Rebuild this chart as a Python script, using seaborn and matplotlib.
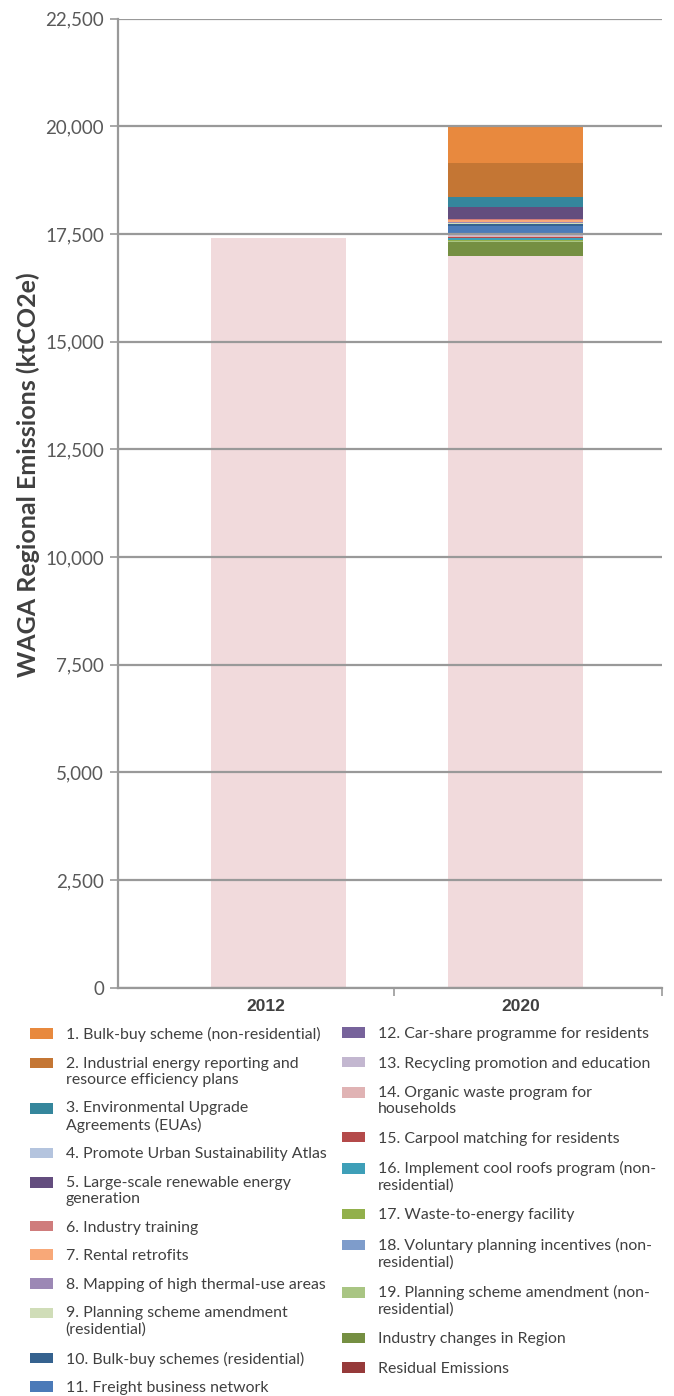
import numpy as np
import pandas as pd
import seaborn as sb
import matplotlib.pyplot as plt
from matplotlib.patches import Patch, Rectangle
from matplotlib.legend_handler import HandlerPatch

# anos e valores (ktCO2e)
anos = ['2012', '2020']
base_2012 = 17400
base_2020 = 17000

medidas = [
    '1. Bulk-buy scheme (non-residential)',
    '2. Industrial energy reporting and\nresource efficiency plans',
    '3. Environmental Upgrade\nAgreements (EUAs)',
    '4. Promote Urban Sustainability Atlas',
    '5. Large-scale renewable energy\ngeneration',
    '6. Industry training',
    '7. Rental retrofits',
    '8. Mapping of high thermal-use areas',
    '9. Planning scheme amendment\n(residential)',
    '10. Bulk-buy schemes (residential)',
    '11. Freight business network',
    '12. Car-share programme for residents',
    '13. Recycling promotion and education',
    '14. Organic waste program for\nhouseholds',
    '15. Carpool matching for residents',
    '16. Implement cool roofs program (non-\nresidential)',
    '17. Waste-to-energy facility',
    '18. Voluntary planning incentives (non-\nresidential)',
    '19. Planning scheme amendment (non-\nresidential)',
    'Industry changes in Region',
    'Residual Emissions',
]
# reducoes em 2020 (de cima para baixo), sem o residual
reducoes_2020 = [850, 790, 232, 8, 263, 32, 37, 23, 23, 60, 166, 15, 53, 23, 10, 40, 25, 15, 25, 310]

cores = ['#E8893E', '#C47634', '#35869C', '#B4C4DE', '#634D7E', '#CF7C7C', '#F8A878',
         '#9C88B5', '#D0DDB8', '#35628F', '#4B7AB8', '#77639B', '#C3B7D0', '#E0B3B4',
         '#B44A4A', '#3E9FB8', '#92B04B', '#7E9CCB', '#A9C583', '#758F42', '#963A3A']
cor_base = '#F1DADC'

sb.set_style('white')
plt.rcParams['font.family'] = ['Lato', 'DejaVu Sans']

fig = plt.figure(figsize=(6.74, 13.96), dpi=100)
ax = fig.add_axes([0.1751, 0.2925, 0.807, 0.694])

# barras empilhadas: desenha o acumulado de cima para baixo
acumulado = base_2020 + np.cumsum(reducoes_2020[::-1])[::-1]
for i, topo in enumerate(acumulado):
    dados = pd.DataFrame({'ano': anos, 'valor': [0, topo]})
    sb.barplot(data=dados, x='ano', y='valor', color=cores[i], width=0.57,
               saturation=1, linewidth=0, edgecolor='none', ax=ax, zorder=1)
dados_base = pd.DataFrame({'ano': anos, 'valor': [base_2012, base_2020]})
sb.barplot(data=dados_base, x='ano', y='valor', color=cor_base, width=0.57,
           saturation=1, linewidth=0, edgecolor='none', ax=ax, zorder=1)

ax.set_xlim(-0.678, 1.62)
ax.set_ylim(0, 22500)
ax.set_yticks(np.arange(0, 22501, 2500))
ax.set_yticklabels([f'{v:,}' for v in range(0, 22501, 2500)])
ax.grid(axis='y', color='#999999', linewidth=1.6, zorder=3)
ax.set_axisbelow(False)
for s in ['top', 'right']:
    ax.spines[s].set_visible(False)
for s in ['left', 'bottom']:
    ax.spines[s].set_color('#999999')
    ax.spines[s].set_linewidth(1.6)
ax.tick_params(axis='y', length=6, width=1.2, color='#999999', labelsize=13.5,
               labelcolor='#595959', pad=4, left=True)
ax.set_xticks([-0.055, 1.025])
ax.set_xticklabels(anos)
ax.tick_params(axis='x', length=0, labelsize=12.5, labelcolor='#404040', pad=8)
for t in ax.get_xticklabels():
    t.set_fontweight('bold')
    t.set_family(['Liberation Sans', 'DejaVu Sans'])
ax.set_xticks([0.49, 1.62], minor=True)
ax.tick_params(axis='x', which='minor', length=6, width=1.2, color='#999999', bottom=True)
ax.set_xlabel('')
ax.set_ylabel('WAGA Regional Emissions (ktCO2e)', fontsize=18, fontweight='bold',
              color='#404040')
ax.yaxis.set_label_coords(-0.1434, 0.529)

# legenda em duas colunas, quadrado alinhado com a primeira linha
tam_fonte = 11.4
linhas = {}


def quadrado(legend, orig_handle, xdescent, ydescent, width, height, fontsize):
    n = linhas.get(id(orig_handle), 1)
    desloc = (n - 1) * 0.55 * fontsize
    return Rectangle((-xdescent, -ydescent + desloc), width, height)


alcas = []
for c, m in zip(cores, medidas):
    p = Patch(facecolor=c, edgecolor='none')
    linhas[id(p)] = m.count('\n') + 1
    alcas.append(p)

kw = dict(frameon=False, fontsize=tam_fonte, labelcolor='#404040', handlelength=1.45,
          handleheight=0.65, handletextpad=0.8, borderpad=0,
          borderaxespad=0, loc='upper left',
          handler_map={Patch: HandlerPatch(patch_func=quadrado)})
fig.legend(alcas[:11], medidas[:11], bbox_to_anchor=(30 / 674, 1 - 1027 / 1396),
           labelspacing=0.92, **kw)
fig.legend(alcas[11:], medidas[11:], bbox_to_anchor=(342 / 674, 1 - 1027 / 1396),
           labelspacing=0.98, **kw)

fig.savefig('out.png', dpi=100)
